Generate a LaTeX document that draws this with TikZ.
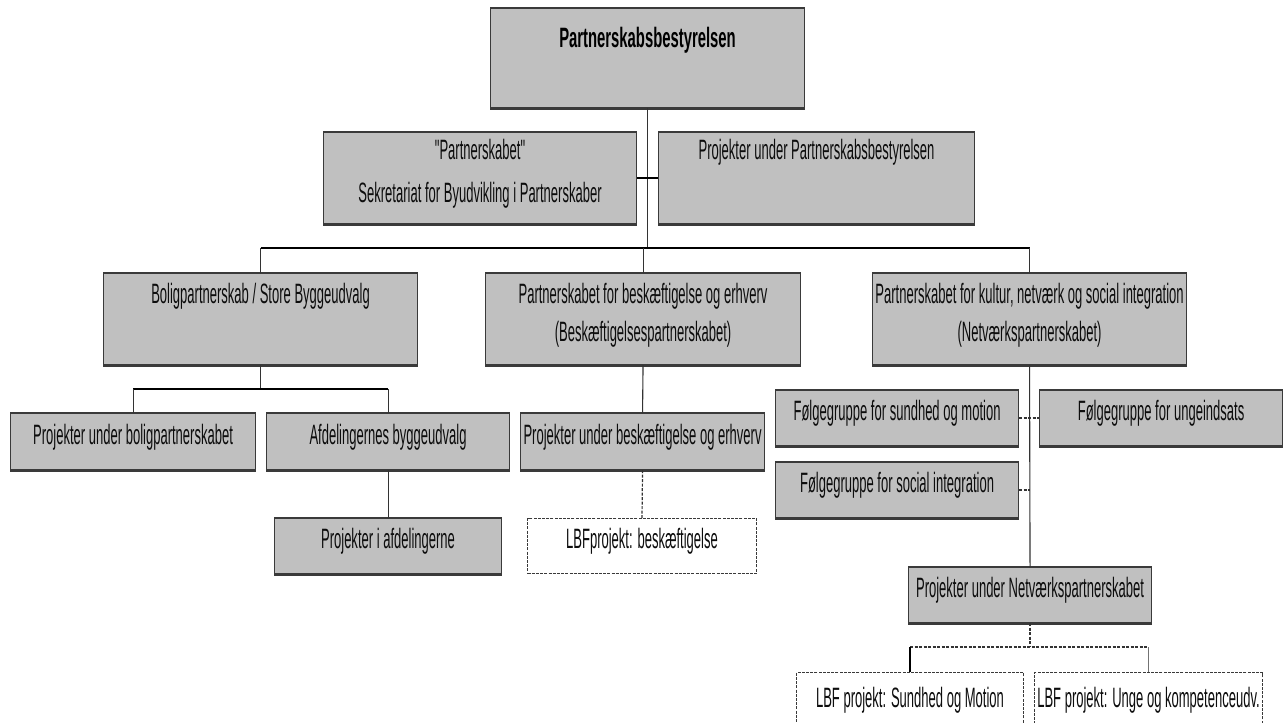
\documentclass[tikz,border=0pt]{standalone}
\usepackage{fontspec}
\setmainfont{Liberation Sans}[FakeStretch=0.465, Ligatures=TeXOff]
\newfontfamily\ttlfont{Liberation Sans}[FakeStretch=0.53]
\definecolor{boxfill}{HTML}{C0C0C0}
\definecolor{edgecol}{HTML}{3A3A3A}
\newcommand{\orgbox}[6][box]{\node[#1, anchor=north west, minimum width=#5pt, minimum height=#6pt, inner sep=0pt] (#2) at (#3,#4) {};}
\begin{document}
\begin{tikzpicture}[x=1pt,y=-1pt,
  box/.style={draw=edgecol, line width=1.1pt, fill=boxfill},
  dbox/.style={draw=edgecol, line width=1pt, fill=white, dash pattern=on 3pt off 1.2pt},
  edgethick/.style={draw=edgecol, line width=2.8pt},
  txt/.style={anchor=mid, inner sep=0pt, text=black!95, font=\fontsize{28}{32}\selectfont},
  ttl/.style={anchor=mid, inner sep=0pt, text=black, font=\ttlfont\fontsize{28}{32}\selectfont\bfseries},
  conn/.style={draw=black!80, line width=1.1pt},
  bus/.style={draw=black, line width=2pt},
  dconn/.style={draw=black!80, line width=1.2pt, dash pattern=on 3pt off 1.5pt},
]
\useasboundingbox (0,0) rectangle (1283,723);
\fill[white] (0,0) rectangle (1283,723);

% boxes
\orgbox{top}{490}{8}{314}{99}
\orgbox{sek}{323}{132}{313}{91}
\orgbox{pps}{658}{132}{316}{91}
\orgbox{bolig}{103}{273}{314}{91}
\orgbox{besk}{485}{273}{315}{91}
\orgbox{kultur}{872}{273}{314}{91}
\orgbox{pub}{10}{413}{245}{56}
\orgbox{afd}{266}{413}{243}{56}
\orgbox{pube}{520}{413}{244}{56}
\orgbox{pia}{274}{518}{227}{55}
\orgbox[dbox]{lbfb}{527}{518}{229}{55}
\orgbox{fsm}{775}{390}{243}{55}
\orgbox{fu}{1039}{390}{243}{55}
\orgbox{fsi}{775}{462}{243}{55}
\orgbox{pun}{908}{567}{243}{55}
\orgbox[dbox]{lbfs}{796}{672}{227}{75}
\orgbox[dbox]{lbfu}{1034}{672}{228}{75}

\foreach \n in {top,sek,pps,bolig,besk,kultur,pub,afd,pube,pia,fsm,fu,fsi,pun}{
  \draw[edgethick] (\n.north west) -- (\n.north east);
  \draw[edgethick] (\n.south west) -- (\n.south east);
}

% texts
\node[ttl] (ttop) at ([yshift=-37pt]top.north) {Partnerskabsbestyrelsen};
\node[txt] (tsek1) at ([yshift=-25pt]sek.north) {"Partnerskabet"};
\node[txt] (tsek2) at ([yshift=-68pt]sek.north) {Sekretariat for Byudvikling i Partnerskaber};
\node[txt] (tpps) at ([yshift=-25pt]pps.north) {Projekter under Partnerskabsbestyrelsen};
\node[txt] (tbolig) at ([yshift=-28pt]bolig.north) {Boligpartnerskab / Store Byggeudvalg};
\node[txt] (tbesk1) at ([yshift=-28pt]besk.north) {Partnerskabet for beskæftigelse og erhverv};
\node[txt] (tbesk2) at ([yshift=-66pt]besk.north) {(Beskæftigelsespartnerskabet)};
\node[txt] (tkul1) at ([yshift=-28pt]kultur.north) {Partnerskabet for kultur, netværk og social integration};
\node[txt] (tkul2) at ([yshift=-66pt]kultur.north) {(Netværkspartnerskabet)};
\node[txt] (tpub) at (pub.center) {Projekter under boligpartnerskabet};
\node[txt] (tafd) at (afd.center) {Afdelingernes byggeudvalg};
\node[txt] (tpube) at (pube.center) {Projekter under beskæftigelse og erhverv};
\node[txt] (tpia) at (pia.center) {Projekter i afdelingerne};
\node[txt] (tlbfb) at (lbfb.center) {LBFprojekt: beskæftigelse};
\node[txt] (tfsm) at (fsm.center) {Følgegruppe for sundhed og motion};
\node[txt] (tfu) at (fu.center) {Følgegruppe for ungeindsats};
\node[txt] (tfsi) at (fsi.center) {Følgegruppe for social integration};
\node[txt] (tpun) at (pun.center) {Projekter under Netværkspartnerskabet};
\node[txt] (tlbfs) at ([yshift=-33pt]lbfs.north) {LBF projekt: Sundhed og Motion};
\node[txt] (tlbfu) at ([yshift=-33pt]lbfu.north) {LBF projekt: Unge og kompetenceudv.};

% connectors
\coordinate (j1) at (top.south |- 0,248);
\coordinate (bL) at (bolig.north |- 0,248);
\coordinate (bR) at (kultur.north |- 0,248);
\draw[conn] (top.south) -- (j1);
\draw[bus] (sek.east) -- (pps.west);
\draw[bus] (bL) -- (bR);
\draw[conn] (bL) -- (bolig.north);
\draw[conn] (besk.north |- bL) -- (besk.north);
\draw[conn] (bR) -- (kultur.north);

\coordinate (b2) at (bolig.south |- 0,389);
\draw[conn] (bolig.south) -- (b2);
\draw[bus] (pub.north |- b2) -- (afd.north |- b2);
\draw[conn] (pub.north |- b2) -- (pub.north);
\draw[conn] (afd.north |- b2) -- (afd.north);
\draw[conn] (afd.south) -- (pia.north);

\draw[conn] (besk.south) -- (pube.north);
\draw[dconn] (pube.south) -- (lbfb.north);

\draw[conn] (kultur.south) -- (pun.north);
\draw[dconn] (fsm.east) -- (fu.west);
\draw[dconn] (fsi.east) -- (fsi.east -| pun.north);

\coordinate (b3) at (pun.south |- 0,647);
\draw[dconn] (pun.south) -- (b3);
\draw[dconn] (lbfs.north |- b3) -- (lbfu.north |- b3);
\draw[draw=black, line width=1.1pt] (lbfs.north |- b3) -- (lbfs.north);
\draw[draw=black!55, line width=1.1pt] (lbfu.north |- b3) -- (lbfu.north);
\end{tikzpicture}
\end{document}
